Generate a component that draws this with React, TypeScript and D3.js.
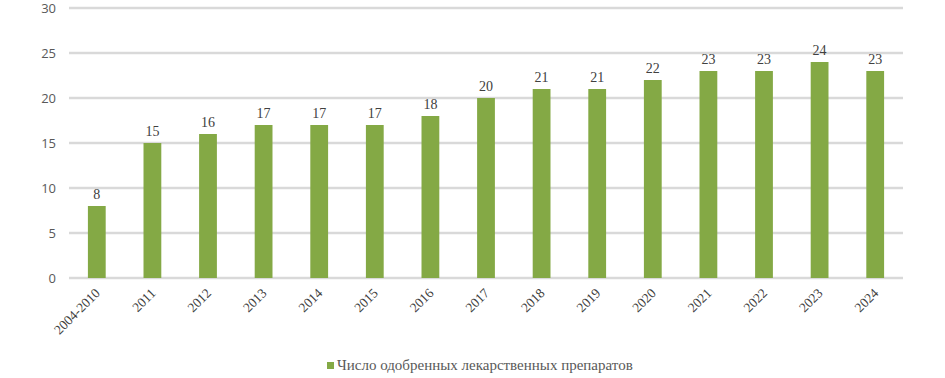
import React from "react";
import * as d3 from "d3";

const categories = ["2004-2010","2011","2012","2013","2014","2015","2016","2017","2018","2019","2020","2021","2022","2023","2024"];
const values = [8,15,16,17,17,17,18,20,21,21,22,23,23,24,23];
const yTicks = [0,5,10,15,20,25,30];
const seriesName = "Число одобренных лекарственных препаратов";

const SERIF = "Liberation Serif, Tinos, DejaVu Serif, serif";

export default function App() {
  const W = 945, H = 378;
  const x = d3.scaleBand<string>().domain(categories).range([69, 903]).paddingInner(0.68).paddingOuter(0.34);
  const y = d3.scaleLinear().domain([0, 30]).range([278, 8]);
  const barColor = "#84a945";
  return (
    <svg width={W} height={H} style={{ position: "absolute", left: 0, top: 0 }}>
      <rect x={0} y={0} width={W} height={H} fill="#fff" />
      {yTicks.map(t => (
        <g key={t}>
          <line x1={69} x2={903} y1={y(t)} y2={y(t)} stroke="#d9d9d9" strokeWidth={2.5} />
          <text x={56} y={y(t)} dy="0.35em" textAnchor="end" fontFamily="Open Sans, sans-serif" fontSize={13} fill="#595959">{t}</text>
        </g>
      ))}
      {categories.map((c, i) => {
        const bx = x(c)!;
        const bw = x.bandwidth();
        const cx = bx + bw / 2;
        return (
          <g key={c}>
            <rect x={bx} y={y(values[i])} width={bw} height={y(0) - y(values[i])} fill={barColor} />
            <text x={cx} y={y(values[i]) - 7} textAnchor="middle" fontFamily={SERIF} fontSize={14} fill="#404040">{values[i]}</text>
            <text transform={`translate(${cx + 4},${294}) rotate(-45)`} textAnchor="end" fontFamily={SERIF} fontSize={13.5} fill="#404040">{c}</text>
          </g>
        );
      })}
      <rect x={327} y={362} width={7} height={7} fill={barColor} />
      <text x={337} y={370} fontFamily={SERIF} fontSize={15} fill="#595959">{seriesName}</text>
    </svg>
  );
}
